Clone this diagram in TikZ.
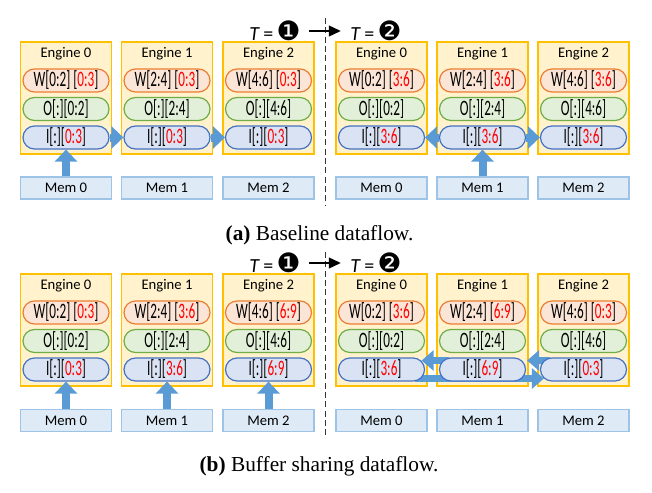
\documentclass[tikz,border=0pt]{standalone}
\usepackage{fontspec}
\setmainfont{Carlito}
\newfontfamily\capfont{Liberation Serif}
\newfontfamily\pillfont[FakeStretch=0.6]{Carlito}
\newfontfamily\numfont{DejaVu Sans}
\usepackage{tikz}
\usepackage{xcolor}
\usetikzlibrary{arrows.meta, calc}

\pgfdeclarelayer{front}
\pgfsetlayers{main,front}

\definecolor{engfill}{HTML}{FFF2CC}
\definecolor{engdraw}{HTML}{FFC000}
\definecolor{wfill}{HTML}{FBE5D6}
\definecolor{wdraw}{HTML}{ED7D31}
\definecolor{ofill}{HTML}{E2F0D9}
\definecolor{odraw}{HTML}{70AD47}
\definecolor{ifill}{HTML}{DAE3F3}
\definecolor{idraw}{HTML}{4472C4}
\definecolor{memfill}{HTML}{DEEBF7}
\definecolor{memdraw}{HTML}{9DC3E6}
\definecolor{flow}{HTML}{5B9BD5}

\newcommand{\hl}[1]{\textcolor{red}{#1}}

\tikzset{
    engbox/.style={draw=engdraw, fill=engfill, line width=0.9pt, minimum width=68.25pt, minimum height=84pt, inner sep=0pt},
    englabel/.style={anchor=north, inner sep=0pt, yshift=-4.5pt, font=\fontsize{11}{12}\selectfont},
    pill/.style={rounded corners=8.6pt, minimum width=64.5pt, minimum height=17.25pt, inner sep=0pt, line width=0.9pt, font=\pillfont\fontsize{16.5}{17}\selectfont},
    wpill/.style={pill, draw=wdraw, fill=wfill},
    opill/.style={pill, draw=odraw, fill=ofill},
    ipill/.style={pill, draw=idraw, fill=ifill},
    membox/.style={draw=memdraw, fill=memfill, line width=0.9pt, minimum width=68.25pt, minimum height=16.5pt, inner sep=0pt, font=\fontsize{11}{12}\selectfont},
    feed/.style={draw=flow, line width=6pt, -{Triangle[length=9pt,width=16.5pt]}},
    share/.style={draw=flow, line width=5pt, -{Triangle[length=9pt,width=15pt]}},
    tlabel/.style={inner sep=0pt, font=\fontsize{15}{16}\selectfont},
    tarrow/.style={line width=1.5pt, -{Triangle[length=9pt,width=8pt]}, shorten <=6pt, shorten >=7pt},
    divider/.style={line width=1pt, dash pattern=on 4.5pt off 2.5pt, color=black!80},
    caption/.style={inner sep=0pt, anchor=base, font=\capfont\fontsize{16}{18}\selectfont}
}

\newcommand{\one}{{\numfont\fontsize{20}{20}\selectfont ❶}}
\newcommand{\two}{{\numfont\fontsize{20}{20}\selectfont ❷}}

\begin{document}
\begin{tikzpicture}[x=0.75pt,y=0.75pt,yscale=-1,xscale=1]
    \path[use as bounding box] (0,0) rectangle (652,492);

    %Dashed Lines
    \coordinate (cuta top) at (325.5,18);
    \coordinate (cuta bot) at (325.5,205);
    \coordinate (cutb top) at (325.5,252);
    \coordinate (cutb bot) at (325.5,436);
    \draw[divider] (cuta top) -- (cuta bot);
    \draw[divider] (cutb top) -- (cutb bot);

    % Text Node
    \node[tlabel] (ta1) at (275,31) {\textit{T}\,=\,\one};
    \node[tlabel] (ta2) at (376,31) {\textit{T}\,=\,\two};
    \node[tlabel] (tb1) at (275,263) {\textit{T}\,=\,\one};
    \node[tlabel] (tb2) at (376,263) {\textit{T}\,=\,\two};
    \draw[tarrow] (ta1) -- (ta2);
    \draw[tarrow] (tb1) -- (tb2);

    %Rect (a) T=1
    \node[engbox, label={[englabel]north:Engine 0}] (ea10) at (66,98) {};
    \node[engbox, label={[englabel]north:Engine 1}] (ea11) at (167,98) {};
    \node[engbox, label={[englabel]north:Engine 2}] (ea12) at (268.5,98) {};
    \node[wpill] (wa10) at (66,80.5) {W[0:2] [\hl{0:3}]};
    \node[wpill] (wa11) at (167,80.5) {W[2:4] [\hl{0:3}]};
    \node[wpill] (wa12) at (268.5,80.5) {W[4:6] [\hl{0:3}]};
    \node[opill] (oa10) at (66,109) {O[:][0:2]};
    \node[opill] (oa11) at (167,109) {O[:][2:4]};
    \node[opill] (oa12) at (268.5,109) {O[:][4:6]};
    \node[ipill] (ia10) at (66,137.5) {I[:][\hl{0:3}]};
    \node[ipill] (ia11) at (167,137.5) {I[:][\hl{0:3}]};
    \node[ipill] (ia12) at (268.5,137.5) {I[:][\hl{0:3}]};
    \node[membox] (ma10) at (66,188) {Mem 0};
    \node[membox] (ma11) at (167,188) {Mem 1};
    \node[membox] (ma12) at (268.5,188) {Mem 2};

    %Rect (a) T=2
    \node[engbox, label={[englabel]north:Engine 0}] (ea20) at (381.5,98) {};
    \node[engbox, label={[englabel]north:Engine 1}] (ea21) at (482.5,98) {};
    \node[engbox, label={[englabel]north:Engine 2}] (ea22) at (583.5,98) {};
    \node[wpill] (wa20) at (381.5,80.5) {W[0:2] [\hl{3:6}]};
    \node[wpill] (wa21) at (482.5,80.5) {W[2:4] [\hl{3:6}]};
    \node[wpill] (wa22) at (583.5,80.5) {W[4:6] [\hl{3:6}]};
    \node[opill] (oa20) at (381.5,109) {O[:][0:2]};
    \node[opill] (oa21) at (482.5,109) {O[:][2:4]};
    \node[opill] (oa22) at (583.5,109) {O[:][4:6]};
    \node[ipill] (ia20) at (381.5,137.5) {I[:][\hl{3:6}]};
    \node[ipill] (ia21) at (482.5,137.5) {I[:][\hl{3:6}]};
    \node[ipill] (ia22) at (583.5,137.5) {I[:][\hl{3:6}]};
    \node[membox] (ma20) at (381.5,188) {Mem 0};
    \node[membox] (ma21) at (482.5,188) {Mem 1};
    \node[membox] (ma22) at (583.5,188) {Mem 2};

    %Straight Lines (a)
    \draw[feed] (ma10.north) -- (ia10.south);
    \draw[feed] (ia10.east) -- (ia11.west);
    \draw[feed] (ia11.east) -- (ia12.west);
    \draw[feed] (ma21.north) -- (ia21.south);
    \draw[feed] (ia21.west) -- (ia20.east);
    \draw[feed] (ia21.east) -- (ia22.west);

    %Rect (b) T=1
    \node[engbox, label={[englabel]north:Engine 0}] (eb10) at (66,330) {};
    \node[engbox, label={[englabel]north:Engine 1}] (eb11) at (167,330) {};
    \node[engbox, label={[englabel]north:Engine 2}] (eb12) at (268.5,330) {};
    \node[wpill] (wb10) at (66,312.5) {W[0:2] [\hl{0:3}]};
    \node[wpill] (wb11) at (167,312.5) {W[2:4] [\hl{3:6}]};
    \node[wpill] (wb12) at (268.5,312.5) {W[4:6] [\hl{6:9}]};
    \node[opill] (ob10) at (66,341) {O[:][0:2]};
    \node[opill] (ob11) at (167,341) {O[:][2:4]};
    \node[opill] (ob12) at (268.5,341) {O[:][4:6]};
    \node[ipill] (ib10) at (66,369.5) {I[:][\hl{0:3}]};
    \node[ipill] (ib11) at (167,369.5) {I[:][\hl{3:6}]};
    \node[ipill] (ib12) at (268.5,369.5) {I[:][\hl{6:9}]};
    \node[membox] (mb10) at (66,420.5) {Mem 0};
    \node[membox] (mb11) at (167,420.5) {Mem 1};
    \node[membox] (mb12) at (268.5,420.5) {Mem 2};

    %Rect (b) T=2
    \node[engbox, label={[englabel]north:Engine 0}] (eb20) at (381.5,330) {};
    \node[engbox, label={[englabel]north:Engine 1}] (eb21) at (482.5,330) {};
    \node[engbox, label={[englabel]north:Engine 2}] (eb22) at (583.5,330) {};
    \node[wpill] (wb20) at (381.5,312.5) {W[0:2] [\hl{3:6}]};
    \node[wpill] (wb21) at (482.5,312.5) {W[2:4] [\hl{6:9}]};
    \node[wpill] (wb22) at (583.5,312.5) {W[4:6] [\hl{0:3}]};
    \node[opill] (ob20) at (381.5,341) {O[:][0:2]};
    \node[opill] (ob21) at (482.5,341) {O[:][2:4]};
    \node[opill] (ob22) at (583.5,341) {O[:][4:6]};
    \begin{pgfonlayer}{front}
    \node[ipill] (ib20) at (381.5,369.5) {I[:][\hl{3:6}]};
    \node[ipill] (ib21) at (482.5,369.5) {I[:][\hl{6:9}]};
    \node[ipill] (ib22) at (583.5,369.5) {I[:][\hl{0:3}]};
    \end{pgfonlayer}
    \node[membox] (mb20) at (381.5,420.5) {Mem 0};
    \node[membox] (mb21) at (482.5,420.5) {Mem 1};
    \node[membox] (mb22) at (583.5,420.5) {Mem 2};

    %Straight Lines (b)
    \draw[feed] (mb10.north) -- (ib10.south);
    \draw[feed] (mb11.north) -- (ib11.south);
    \draw[feed] (mb12.north) -- (ib12.south);
    \draw[share] ($(ib21.west)+(10,-9)$) -- ($(ib20.east)+(-3.5,-9)$);
    \draw[share] ($(ib22.west)+(10,-9)$) -- ($(ib21.east)+(1,-9)$);
    \draw[share] ($(ib20.east)+(-10,9)$) -- ($(ib22.west)+(4,9)$);

    % Text Node
    \node[caption] (capa) at (319.5,240) {\textbf{(a)} Baseline dataflow.};
    \node[caption] (capb) at (319,471) {\textbf{(b)} Buffer sharing dataflow.};
\end{tikzpicture}
\end{document}
